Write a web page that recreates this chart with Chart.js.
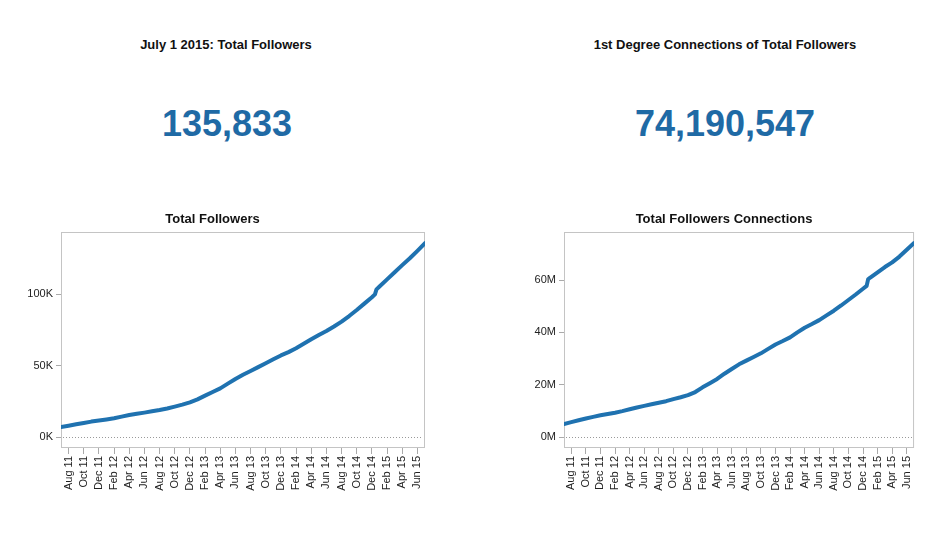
<!DOCTYPE html>
<html>
<head>
<meta charset="utf-8">
<script src="https://cdn.jsdelivr.net/npm/chart.js@4.4.0/dist/chart.umd.min.js"></script>
<style>
  body { margin: 0; background: #fff; font-family: "Liberation Sans", Arial, sans-serif; }
  .head { position: absolute; top: 37px; font-weight: bold; font-size: 13px; line-height: 15px; color: #111; transform: translateX(-50%); white-space: nowrap; }
  .big { position: absolute; top: 104px; font-weight: bold; font-size: 36px; line-height: 40px; color: #1f6aa5; transform: translateX(-50%); white-space: nowrap; }
  canvas { position: absolute; top: 200px; }
</style>
</head>
<body>
<div class="head" style="left:226px">July 1 2015: Total Followers</div>
<div class="big" style="left:227px">135,833</div>
<div class="head" style="left:725px">1st Degree Connections of Total Followers</div>
<div class="big" style="left:725px">74,190,547</div>

<canvas id="followers" width="452" height="308" style="left:0px"></canvas>
<canvas id="connections" width="394" height="308" style="left:528px"></canvas>

<script>
// months counted from Jul 2011 (0) to Jul 2015 (48)
const tickMonths = [1, 3, 5, 7, 9, 11, 13, 15, 17, 19, 21, 23, 25, 27, 29, 31, 33, 35, 37, 39, 41, 43, 45, 47];
const tickLabels = ['Aug 11', 'Oct 11', 'Dec 11', 'Feb 12', 'Apr 12', 'Jun 12', 'Aug 12', 'Oct 12', 'Dec 12',
  'Feb 13', 'Apr 13', 'Jun 13', 'Aug 13', 'Oct 13', 'Dec 13', 'Feb 14', 'Apr 14', 'Jun 14', 'Aug 14',
  'Oct 14', 'Dec 14', 'Feb 15', 'Apr 15', 'Jun 15'];

const followerMonths = [0, 1, 2, 3, 4, 5, 6, 7, 8, 9, 10, 11, 12, 13, 14, 15, 16, 17, 18, 19, 20, 21, 22, 23, 24,
  25, 26, 27, 28, 29, 30, 31, 32, 33, 34, 35, 36, 37, 38, 39, 40, 41, 41.4, 41.6, 42, 43, 44, 45, 46, 47, 48];
const followerValues = [7000, 7900, 8900, 9800, 10800, 11500, 12300, 13100, 14300, 15400, 16300, 17100, 18000,
  18900, 20000, 21300, 22700, 24300, 26400, 29000, 31600, 34100, 37400, 40700, 43600, 46300, 49000, 51700,
  54500, 57200, 59500, 62200, 65300, 68500, 71500, 74300, 77500, 80900, 84800, 89000, 93500, 98000,
  100000, 103500, 105500, 110500, 115500, 120500, 125300, 130500, 135833];
const followerTicks = [0, 50000, 100000];

const connMonths = [0, 1, 2, 3, 4, 5, 6, 7, 8, 9, 10, 11, 12, 13, 14, 15, 16, 17, 18, 19, 20, 21, 22, 23, 24,
  25, 26, 27, 28, 29, 30, 31, 32, 33, 34, 35, 36, 37, 38, 39, 40, 41, 41.5, 41.7, 42, 43, 44, 45, 46, 47, 48];
// millions
const connValues = [5.0, 5.7, 6.4, 7.1, 7.7, 8.3, 8.8, 9.3, 9.9, 10.6, 11.3, 11.9, 12.5, 13.1, 13.7, 14.5,
  15.2, 16.0, 17.2, 19.0, 20.6, 22.2, 24.2, 26.0, 27.8, 29.2, 30.6, 32.0, 33.7, 35.4, 36.7, 38.1, 40.0,
  41.8, 43.2, 44.7, 46.5, 48.3, 50.3, 52.4, 54.5, 56.7, 57.8, 60.3, 61.0, 63.0, 65.0, 66.8, 69.0, 71.6, 74.19];
const connTicks = [0, 20, 40, 60];

const font = 'Liberation Sans, Arial, sans-serif';

// grey frame round the plot and dotted zero line
const frame = {
  id: 'frame',
  beforeDatasetsDraw(chart) {
    const { ctx, chartArea: a } = chart;
    const y = chart.scales.y;
    ctx.save();
    ctx.strokeStyle = '#c4c4c4';
    ctx.lineWidth = 1;
    ctx.strokeRect(a.left + 0.5, a.top + 0.5, a.width - 1, a.height - 1);
    const z = Math.round(y.getPixelForValue(0)) + 0.5;
    ctx.setLineDash([1, 2]);
    ctx.strokeStyle = '#999';
    ctx.beginPath();
    ctx.moveTo(a.left + 2, z);
    ctx.lineTo(a.right - 2, z);
    ctx.stroke();
    ctx.restore();
  }
};

function makeChart(id, title, months, values, yTicks, yMin, yMax, fmt, yWidth, padRight) {
  new Chart(document.getElementById(id), {
    type: 'line',
    data: {
      datasets: [{
        data: months.map((m, i) => ({ x: m, y: values[i] })),
        borderColor: '#1f72b0',
        borderWidth: 4,
        pointRadius: 0,
        tension: 0,
        borderJoinStyle: 'round',
        borderCapStyle: 'round'
      }]
    },
    options: {
      responsive: false,
      animation: false,
      devicePixelRatio: 1,
      layout: { padding: { left: 0, right: padRight, top: 0, bottom: 0 } },
      plugins: {
        legend: { display: false },
        tooltip: { enabled: false },
        title: {
          display: true,
          text: title,
          color: '#111',
          font: { family: font, size: 13, weight: 'bold' },
          padding: { top: 12, bottom: 4.4 }
        }
      },
      scales: {
        x: {
          type: 'linear',
          min: 0,
          max: 48,
          afterBuildTicks: s => { s.ticks = tickMonths.map(v => ({ value: v })); },
          afterFit: s => { s.height = 60; },
          border: { display: false },
          grid: { drawOnChartArea: false, drawTicks: true, tickLength: 6, color: '#aaa' },
          ticks: {
            autoSkip: false,
            minRotation: 90,
            maxRotation: 90,
            padding: 2,
            color: '#222',
            font: { family: font, size: 11 },
            callback: (v, i) => tickLabels[i]
          }
        },
        y: {
          min: yMin,
          max: yMax,
          afterBuildTicks: s => { s.ticks = yTicks.map(v => ({ value: v })); },
          afterFit: s => { s.width = yWidth; },
          border: { display: false },
          grid: { drawOnChartArea: false, drawTicks: true, tickLength: 5, color: '#aaa' },
          ticks: {
            padding: 3,
            color: '#222',
            font: { family: font, size: 11 },
            callback: fmt
          }
        }
      }
    },
    plugins: [frame]
  });
}

makeChart('followers', 'Total Followers', followerMonths, followerValues, followerTicks,
  -7700, 143700, v => (v / 1000) + 'K', 61, 27);
makeChart('connections', 'Total Followers Connections', connMonths, connValues, connTicks,
  -4.2, 78.4, v => v + 'M', 36, 2);
</script>
</body>
</html>
